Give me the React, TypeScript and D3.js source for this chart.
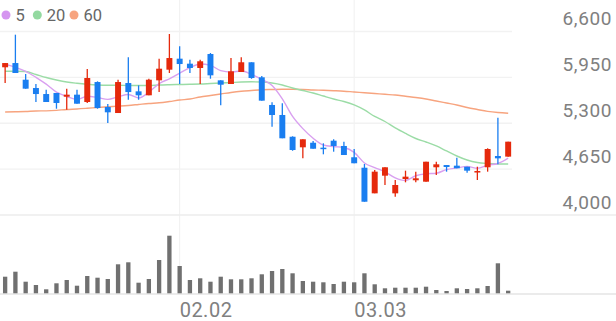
import React from "react";
import * as d3 from "d3";

const dates = [
  "01.08", "01.09", "01.12", "01.13", "01.14", "01.15", "01.16", "01.19", "01.20", "01.21",
  "01.22", "01.23", "01.26", "01.27", "01.28", "01.29", "01.30", "02.02", "02.03", "02.04",
  "02.05", "02.06", "02.09", "02.10", "02.11", "02.12", "02.13", "02.19", "02.20", "02.23",
  "02.24", "02.25", "02.26", "02.27", "03.03", "03.04", "03.05", "03.06", "03.09", "03.10",
  "03.11", "03.12", "03.13", "03.16", "03.17", "03.18", "03.19", "03.20", "03.23", "03.24",
];

const opens = [
  6093, 6153, 5917, 5799, 5714, 5729, 5676, 5705, 5601, 5884,
  5530, 5445, 5870, 5752, 5696, 5908, 6059, 6215, 6144, 6083,
  6281, 5908, 5856, 6026, 6164, 5951, 5559, 5417, 5109, 4959,
  5024, 4954, 5053, 4978, 4818, 4670, 4307, 4557, 4307, 4510,
  4492, 4472, 4676, 4708, 4699, 4684, 4605, 4676, 4836, 4827,
];
const highs = [
  6153, 6555, 5998, 5856, 5775, 5729, 5790, 5775, 6069, 5894,
  5573, 5917, 6235, 5837, 5932, 6215, 6565, 6390, 6200, 6200,
  6295, 5908, 6224, 6235, 6164, 5969, 5597, 5583, 5115, 5073,
  5048, 5016, 5073, 5039, 4935, 4723, 4638, 4676, 4496, 4628,
  4614, 4755, 4755, 4708, 4812, 4684, 4684, 4945, 5379, 5039,
];
const lows = [
  5870, 6012, 5790, 5601, 5601, 5506, 5492, 5577, 5587, 5506,
  5304, 5445, 5633, 5633, 5696, 5742, 6012, 5856, 6012, 5856,
  5931, 5554, 5856, 6026, 5930, 5620, 5251, 5087, 4910, 4803,
  4939, 4860, 4897, 4850, 4733, 4188, 4307, 4425, 4259, 4463,
  4463, 4472, 4567, 4614, 4662, 4600, 4496, 4614, 4718, 4827,
];
const closes = [
  6153, 6012, 5790, 5714, 5601, 5587, 5705, 5577, 5941, 5516,
  5455, 5884, 5742, 5696, 5917, 6073, 6224, 6139, 6083, 6178,
  5979, 5846, 6036, 6164, 5941, 5620, 5417, 5087, 4921, 5073,
  4939, 4939, 4978, 4850, 4733, 4188, 4614, 4676, 4425, 4543,
  4520, 4755, 4718, 4680, 4662, 4628, 4623, 4935, 4803, 5039,
];
// closes of the four sessions before the first visible one (for the 5-day average)
const priorCloses = [6237, 6075, 6139, 6086];

const ma20 = [
  6036, 6036, 6033, 5991, 5948, 5913, 5884, 5866, 5852, 5842,
  5838, 5838, 5835, 5835, 5835, 5842, 5846, 5849, 5852, 5856,
  5863, 5870, 5877, 5884, 5887, 5884, 5870, 5842, 5799, 5764,
  5729, 5686, 5644, 5608, 5559, 5488, 5396, 5325, 5233, 5155,
  5084, 5034, 4978, 4907, 4836, 4779, 4744, 4730, 4723, 4723,
];
const ma60 = [
  5459, 5462, 5466, 5474, 5476, 5483, 5495, 5502, 5512, 5523,
  5533, 5542, 5552, 5566, 5580, 5590, 5608, 5629, 5644, 5672,
  5693, 5714, 5736, 5753, 5764, 5774, 5778, 5781, 5781, 5778,
  5771, 5767, 5761, 5754, 5743, 5733, 5722, 5710, 5700, 5682,
  5665, 5644, 5615, 5587, 5559, 5523, 5495, 5469, 5452, 5441,
];
const volumes = [
  173000, 223000, 123000, 90000, 47000, 107000, 140000, 83000, 180000, 163000,
  150000, 297000, 317000, 113000, 150000, 340000, 583000, 280000, 140000, 157000,
  123000, 173000, 147000, 147000, 157000, 197000, 230000, 250000, 207000, 130000,
  123000, 117000, 100000, 123000, 117000, 207000, 97000, 57000, 63000, 63000,
  63000, 73000, 40000, 30000, 57000, 50000, 57000, 80000, 307000, 33000,
];

const priceTicks = [4000, 4650, 5300, 5950, 6600];
const dateTicks = ["02.02", "03.03"];
const legendItems = [
  { label: "5", color: "#d595f0" },
  { label: "20", color: "#93d9a0" },
  { label: "60", color: "#f7a47f" },
];

const W = 616;
const H = 321;
const UP = "#e5290c";
const DOWN = "#1a7ef0";
const FONT = "Roboto, 'Noto Sans', sans-serif";

export default function App() {
  const allCloses = [...priorCloses, ...closes];
  const ma5 = closes.map((_, i) => d3.mean(allCloses.slice(i, i + 5)) as number);

  const x = d3.scaleBand<string>().domain(dates).range([0, 513.3]);
  const cx = (i: number) => (x(dates[i]) as number) + x.bandwidth() / 2;
  const y = d3.scaleLinear().domain([4000, 6600]).range([215, 31.5]);
  const v = d3.scaleLinear().domain([0, 600000]).range([294, 234]);

  const bodyW = x.bandwidth() * 0.58;
  const volW = x.bandwidth() * 0.42;

  const line = d3
    .line<number>()
    .x((_, i) => cx(i))
    .y((d) => y(d))
    .curve(d3.curveMonotoneX);

  const gridRight = 512;

  return (
    <svg
      width={W}
      height={H}
      style={{ position: "fixed", left: 0, top: 0, background: "#fff" }}
      fontFamily={FONT}
    >
      {/* vertical grid at date ticks */}
      {dateTicks.map((d) => (
        <line
          key={"vg" + d}
          x1={cx(dates.indexOf(d))}
          x2={cx(dates.indexOf(d))}
          y1={0}
          y2={294}
          stroke="#f0f0f0"
          strokeWidth={1}
        />
      ))}
      {/* horizontal price grid */}
      {priceTicks.map((t) => (
        <line
          key={"hg" + t}
          x1={0}
          x2={t === 4000 ? W : gridRight}
          y1={y(t)}
          y2={y(t)}
          stroke={t === 4000 ? "#ececec" : "#f2f2f2"}
          strokeWidth={1.3}
        />
      ))}
      {/* price labels */}
      {priceTicks.map((t) => (
        <text
          key={"pl" + t}
          x={612}
          y={y(t) - 6.5}
          textAnchor="end"
          fontSize={19}
          letterSpacing={0.6}
          fill="#808080"
        >
          {d3.format(",")(t)}
        </text>
      ))}
      {/* moving averages */}
      <path d={line(ma60) as string} fill="none" stroke="#f7a47f" strokeWidth={1.4} />
      <path d={line(ma20) as string} fill="none" stroke="#9bdca6" strokeWidth={1.4} />
      <path d={line(ma5) as string} fill="none" stroke="#d9a0f0" strokeWidth={1.4} />
      {/* candles */}
      {dates.map((d, i) => {
        const o = opens[i];
        const c = closes[i];
        const col = c >= o ? UP : DOWN;
        const top = y(Math.max(o, c));
        const bot = y(Math.min(o, c));
        return (
          <g key={"c" + d}>
            <line
              x1={cx(i)}
              x2={cx(i)}
              y1={y(highs[i])}
              y2={y(lows[i])}
              stroke={col}
              strokeWidth={1.3}
            />
            <rect
              x={cx(i) - bodyW / 2}
              y={top}
              width={bodyW}
              height={Math.max(1.5, bot - top)}
              fill={col}
            />
          </g>
        );
      })}
      {/* volume */}
      {dates.map((d, i) => (
        <rect
          key={"v" + d}
          x={cx(i) - volW / 2}
          y={v(volumes[i])}
          width={volW}
          height={v(0) - v(volumes[i])}
          fill="#707070"
        />
      ))}
      <line x1={0} x2={W} y1={294} y2={294} stroke="#e4e4e4" strokeWidth={1.3} />
      {/* date labels */}
      {dateTicks.map((d) => (
        <text
          key={"dl" + d}
          x={cx(dates.indexOf(d))}
          y={316.5}
          fontSize={20}
          letterSpacing={0.5}
          fill="#808080"
        >
          {d}
        </text>
      ))}
      {/* legend */}
      {legendItems.map((it, k) => {
        const lx = [6, 37.3, 74][k];
        return (
          <g key={"lg" + it.label}>
            <circle cx={lx} cy={15} r={4.5} fill={it.color} />
            <text x={lx + 9.5} y={20.8} fontSize={16.5} fill="#666">
              {it.label}
            </text>
          </g>
        );
      })}
    </svg>
  );
}
